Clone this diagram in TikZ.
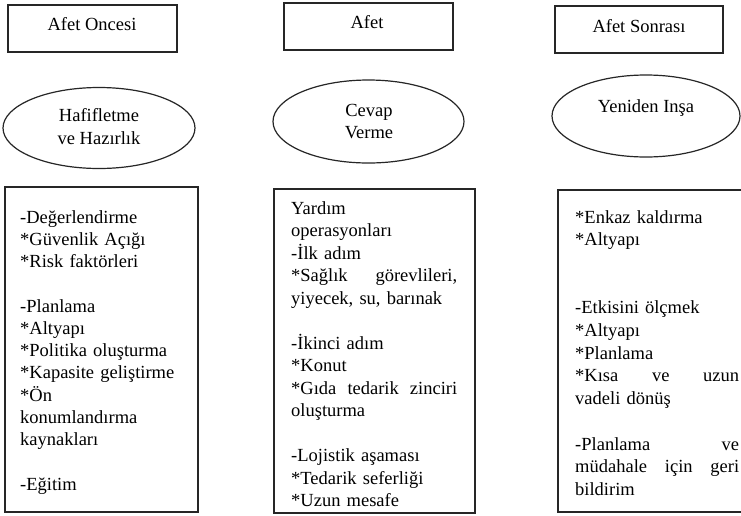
\documentclass[tikz,border=0pt]{standalone}
\usepackage{fontspec}
\setmainfont{Liberation Serif}
\usetikzlibrary{shapes.geometric}
% justified lines: words spread over the full column width
\newcommand{\jtwo}[3]{\leavevmode\hbox to #1{#2\hfill#3}}
\newcommand{\jthree}[4]{\leavevmode\hbox to #1{#2\hfill#3\hfill#4}}
\begin{document}
\begin{tikzpicture}[x=1pt,y=-1pt,
  frame/.style={draw=black!85, line width=1.2pt, rectangle, inner sep=0pt},
  oval/.style={draw=black!85, line width=1.2pt, ellipse, inner sep=0pt},
  txt/.style={font=\fontsize{18.5}{22.5}\selectfont, inner sep=0pt, anchor=base},
  body/.style={inner sep=0pt, anchor=base west, align=left}]
\useasboundingbox (0,0) rectangle (741,515);
\fill[white] (0,0) rectangle (741,515);
\clip (0,0) rectangle (741,515);

% phase headers
\node[frame, minimum width=169pt, minimum height=47pt] (pre)  at (92.5,28.5)  {};
\node[frame, minimum width=169pt, minimum height=47pt] (dis)  at (368.5,26.5) {};
\node[frame, minimum width=168pt, minimum height=47pt] (post) at (639,29.5)   {};
\node[txt] (preT)  at (92,30)  {Afet Oncesi};
\node[txt] (disT)  at (367,28) {Afet};
\node[txt] (postT) at (639,32) {Afet Sonrası};

% activities
\node[oval, minimum width=192pt, minimum height=81pt] (mit) at (99,128)    {};
\node[oval, minimum width=191pt, minimum height=83pt] (res) at (368.5,121.5) {};
\node[oval, minimum width=188pt, minimum height=82pt] (rec) at (646,116)   {};
\node[txt] (mitA) at (99,121)  {Hafifletme};
\node[txt] (mitB) at (99,144)  {ve Hazırlık};
\node[txt] (resA) at (369,116) {Cevap};
\node[txt] (resB) at (369,138) {Verme};
\node[txt] (recA) at (646,112) {Yeniden Inşa};

% detail boxes
\node[frame, minimum width=193pt, minimum height=325pt] (preBox)  at (101.5,349.5) {};
\node[frame, minimum width=201pt, minimum height=324pt] (disBox)  at (374.5,351)   {};
\node[frame, minimum width=192pt, minimum height=322pt] (postBox) at (654,351)     {};

\node[body, text width=175pt, font=\fontsize{18.5}{22.25}\selectfont] (preList) at (20,223) {%
-Değerlendirme\\
{}*Güvenlik Açığı\\
{}*Risk faktörleri\\
\mbox{}\\
-Planlama\\
{}*Altyapı\\
{}*Politika oluşturma\\
{}*Kapasite geliştirme\\
{}*Ön\\
konumlandırma\\
kaynakları\\
\mbox{}\\
-Eğitim};

\node[body, text width=166pt, font=\fontsize{18.5}{22.5}\selectfont] (disList) at (291,214) {%
Yardım\\
operasyonları\\
-İlk adım\\
\jtwo{166pt}{*Sağlık}{görevlileri,}\\
yiyecek, su, barınak\\
\mbox{}\\
-İkinci adım\\
{}*Konut\\
\jthree{166pt}{*Gıda}{tedarik}{zinciri}\\
oluşturma\\
\mbox{}\\
-Lojistik aşaması\\
{}*Tedarik seferliği\\
{}*Uzun mesafe};

\node[body, text width=164pt, font=\fontsize{18.5}{22.7}\selectfont] (postList) at (575,223) {%
{}*Enkaz kaldırma\\
{}*Altyapı\\
\mbox{}\\
\mbox{}\\
-Etkisini ölçmek\\
{}*Altyapı\\
{}*Planlama\\
\jthree{164pt}{*Kısa}{ve}{uzun}\\
vadeli dönüş\\
\mbox{}\\
\jtwo{164pt}{-Planlama}{ve}\\
\jthree{164pt}{müdahale}{için}{geri}\\
bildirim};
\end{tikzpicture}
\end{document}
